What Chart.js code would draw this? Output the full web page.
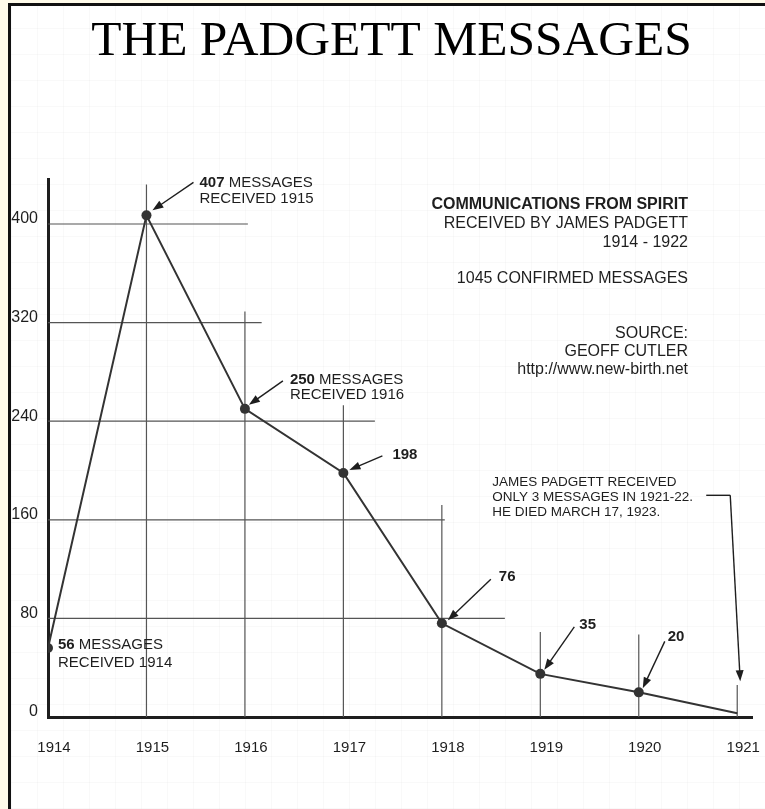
<!DOCTYPE html>
<html>
<head>
<meta charset="utf-8">
<title>The Padgett Messages</title>
<script src="https://cdn.jsdelivr.net/npm/chart.js@4.4.1/dist/chart.umd.min.js"></script>
<style>
  html, body { margin: 0; padding: 0; }
  body { width: 765px; height: 809px; background: #fffbea; position: relative; overflow: hidden; }
  #paper {
    position: absolute; left: 8px; top: 3px; right: 0; bottom: 0;
    border-left: 3px solid #111; border-top: 3px solid #111;
    background-color: #fff;
    background-image: repeating-linear-gradient(0deg, rgba(0,0,0,0.025) 0 1px, transparent 1px 26px),
                      repeating-linear-gradient(90deg, rgba(0,0,0,0.025) 0 1px, transparent 1px 26px);
  }
  #chart { position: absolute; left: 0; top: 0; }
</style>
</head>
<body>
<div id="paper"></div>
<canvas id="chart" width="765" height="809"></canvas>
<script>
// data
const years = [1914, 1915, 1916, 1917, 1918, 1919, 1920, 1921];
const messages = [56, 407, 250, 198, 76, 35, 20, 3];
const yTicks = [0, 80, 160, 240, 320, 400];

const sans = '"Liberation Sans", Arial, sans-serif';
const ink = '#1e1e1e';

// hand drawn grid: how far each line was ruled (in axis units)
const hLines = [[80, 1918.64], [160, 1918.03], [240, 1917.32], [320, 1916.17], [400, 1916.03]];
const vLines = [[1915, 432], [1916, 329], [1917, 253], [1918, 172], [1919, 69], [1920, 67], [1921, 26]];

// callouts, offsets are pixels from the data point
const notes = [
  { i: 0, bold: '56', rest: ' MESSAGES', line2: 'RECEIVED 1914', dx: 10, dy: -3, gap: 18 },
  { i: 1, bold: '407', rest: ' MESSAGES', line2: 'RECEIVED 1915', dx: 53, dy: -33, gap: 16, tail: [47, -33], head: [6, -5] },
  { i: 2, bold: '250', rest: ' MESSAGES', line2: 'RECEIVED 1916', dx: 45, dy: -29, gap: 15, tail: [38, -28], head: [4, -4] },
  { i: 3, bold: '198', dx: 49, dy: -18, tail: [39, -17], head: [6, -3] },
  { i: 4, bold: '76', dx: 57, dy: -46, tail: [49, -44], head: [6, -3] },
  { i: 5, bold: '35', dx: 39, dy: -49, tail: [34, -47], head: [4, -4] },
  { i: 6, bold: '20', dx: 29, dy: -55, tail: [26, -51], head: [4, -4] }
];

const infoLines = [
  ['COMMUNICATIONS FROM SPIRIT', 205, true],
  ['RECEIVED BY JAMES PADGETT', 224],
  ['1914 - 1922', 243],
  ['1045 CONFIRMED MESSAGES', 279],
  ['SOURCE:', 334],
  ['GEOFF CUTLER', 352],
  ['http://www.new-birth.net', 370]
];

const deathNote = ['JAMES PADGETT RECEIVED', 'ONLY 3 MESSAGES IN 1921-22.', 'HE DIED MARCH 17, 1923.'];

function arrow(ctx, x1, y1, x2, y2) {
  const a = Math.atan2(y2 - y1, x2 - x1);
  const c = Math.cos(a), s = Math.sin(a);
  ctx.beginPath();
  ctx.moveTo(x1, y1);
  ctx.lineTo(x2 - 6 * c, y2 - 6 * s);
  ctx.stroke();
  ctx.beginPath();
  ctx.moveTo(x2, y2);
  ctx.lineTo(x2 - 11 * c + 4 * s, y2 - 11 * s - 4 * c);
  ctx.lineTo(x2 - 11 * c - 4 * s, y2 - 11 * s + 4 * c);
  ctx.closePath();
  ctx.fill();
}

const sketch = {
  id: 'sketch',
  beforeDatasetsDraw(chart) {
    const { ctx, scales: { x, y } } = chart;
    ctx.save();
    ctx.strokeStyle = '#555';
    ctx.lineWidth = 1.2;
    hLines.forEach(([v, to]) => {
      const py = y.getPixelForValue(v);
      ctx.beginPath();
      ctx.moveTo(x.getPixelForValue(years[0]), py);
      ctx.lineTo(x.getPixelForValue(to), py);
      ctx.stroke();
    });
    vLines.forEach(([yr, to]) => {
      const px = x.getPixelForValue(yr);
      ctx.beginPath();
      ctx.moveTo(px, y.getPixelForValue(0));
      ctx.lineTo(px, y.getPixelForValue(to));
      ctx.stroke();
    });
    ctx.restore();
  },
  afterDatasetsDraw(chart) {
    const { ctx, scales: { x, y } } = chart;
    ctx.save();
    // title
    ctx.fillStyle = '#000';
    ctx.textAlign = 'center';
    ctx.textBaseline = 'alphabetic';
    ctx.font = '49.5px "Liberation Serif", "Times New Roman", serif';
    ctx.fillText('THE PADGETT MESSAGES', 391.5, 55);

    ctx.fillStyle = ink;
    ctx.strokeStyle = ink;
    ctx.lineWidth = 1.4;
    ctx.textBaseline = 'middle';
    ctx.textAlign = 'left';

    notes.forEach(n => {
      const px = x.getPixelForValue(years[n.i]);
      const py = y.getPixelForValue(messages[n.i]);
      const tx = px + n.dx, ty = py + n.dy;
      ctx.font = 'bold 15px ' + sans;
      ctx.fillText(n.bold, tx, ty);
      if (n.rest) {
        const w = ctx.measureText(n.bold).width;
        ctx.font = '15px ' + sans;
        ctx.fillText(n.rest, tx + w, ty);
        ctx.fillText(n.line2, tx, ty + n.gap);
      }
      if (n.tail) arrow(ctx, px + n.tail[0], py + n.tail[1], px + n.head[0], py + n.head[1]);
    });

    // top right info block
    ctx.textAlign = 'right';
    infoLines.forEach(([t, ty, b]) => {
      ctx.font = (b ? 'bold ' : '') + '16px ' + sans;
      ctx.fillText(t, 688, ty);
    });

    // note about the last years, pointing at 1921
    const lx = x.getPixelForValue(years[7]);
    const ly = y.getPixelForValue(messages[7]);
    ctx.textAlign = 'left';
    ctx.font = '13.5px ' + sans;
    deathNote.forEach((t, k) => ctx.fillText(t, lx - 245, ly - 231 + k * 15));
    ctx.beginPath();
    ctx.moveTo(lx - 31, ly - 218);
    ctx.lineTo(lx - 7, ly - 218);
    ctx.stroke();
    arrow(ctx, lx - 7, ly - 218, lx + 3, ly - 32);
    ctx.restore();
  }
};

new Chart(document.getElementById('chart'), {
  type: 'line',
  data: {
    datasets: [{
      data: years.map((yr, k) => ({ x: yr, y: messages[k] })),
      borderColor: '#333',
      borderWidth: 2,
      backgroundColor: '#333',
      pointRadius: c => (c.dataIndex < years.length - 1 ? 5 : 0),
      pointBorderWidth: 0,
      tension: 0
    }]
  },
  options: {
    responsive: false,
    animation: false,
    devicePixelRatio: 1,
    layout: { padding: { top: 179, right: 13, left: 0, bottom: 0 } },
    plugins: {
      legend: { display: false },
      tooltip: { enabled: false },
      title: { display: false }
    },
    scales: {
      x: {
        type: 'linear',
        min: 1914,
        max: 1921.15,
        grid: { display: false, drawTicks: false },
        border: { color: ink, width: 3 },
        afterBuildTicks: s => { s.ticks = years.map(v => ({ value: v })); },
        afterFit: s => { s.height = 92; s.paddingLeft = 0; s.paddingRight = 0; },
        ticks: {
          color: ink,
          font: { family: sans, size: 15 },
          padding: 22,
          labelOffset: 6,
          callback: v => String(v)
        }
      },
      y: {
        min: 0,
        max: 436.5,
        grid: { display: false, drawTicks: false },
        border: { color: ink, width: 3 },
        afterBuildTicks: s => { s.ticks = yTicks.map(v => ({ value: v })); },
        afterFit: s => { s.width = 48; s.paddingTop = 0; s.paddingBottom = 0; },
        ticks: {
          color: ink,
          font: { family: sans, size: 16 },
          padding: 10,
          labelOffset: -5
        }
      }
    }
  },
  plugins: [sketch]
});
</script>
</body>
</html>
